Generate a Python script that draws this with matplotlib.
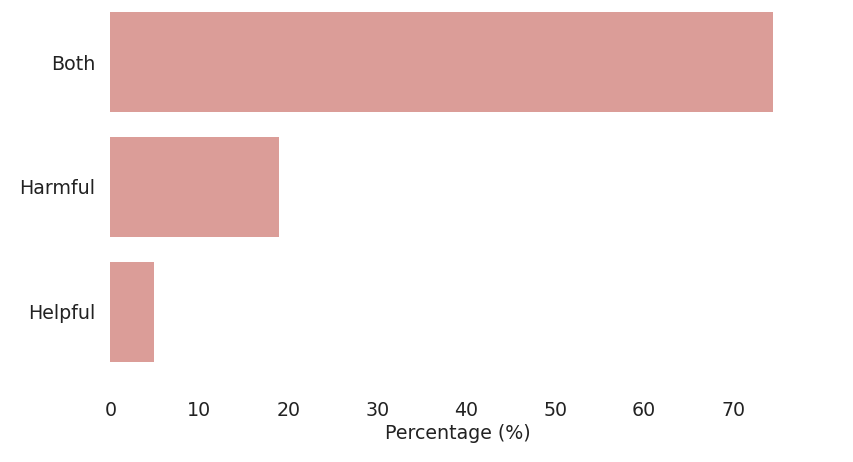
import matplotlib
matplotlib.use("Agg")
import matplotlib.pyplot as plt

categories = ["Both", "Harmful", "Helpful"]
values = [74.5, 18.9, 4.9]
xticks = [0, 10, 20, 30, 40, 50, 60, 70]

fig = plt.figure(figsize=(8.54, 4.62), dpi=100)
ax = fig.add_axes([110.5/854, 1-374/462, (806-110.5)/854, 374/462])
ax.barh(range(len(categories)), values, height=0.8, color="#db9d98")
ax.set_ylim(2.5, -0.5)
ax.set_xlim(0, 78.2)
ax.set_yticks(range(len(categories)))
ax.set_yticklabels(categories)
ax.set_xticks(xticks)
for s in ax.spines.values():
    s.set_visible(False)
fs = 13.7
ax.tick_params(axis="x", length=0, pad=19.5, labelsize=fs, colors="#222222")
ax.tick_params(axis="y", length=0, pad=11, labelsize=fs, colors="#222222")
ax.set_xlabel("Percentage (%)", fontsize=fs, color="#222222", labelpad=3)
fig.savefig("out.png", dpi=100)
